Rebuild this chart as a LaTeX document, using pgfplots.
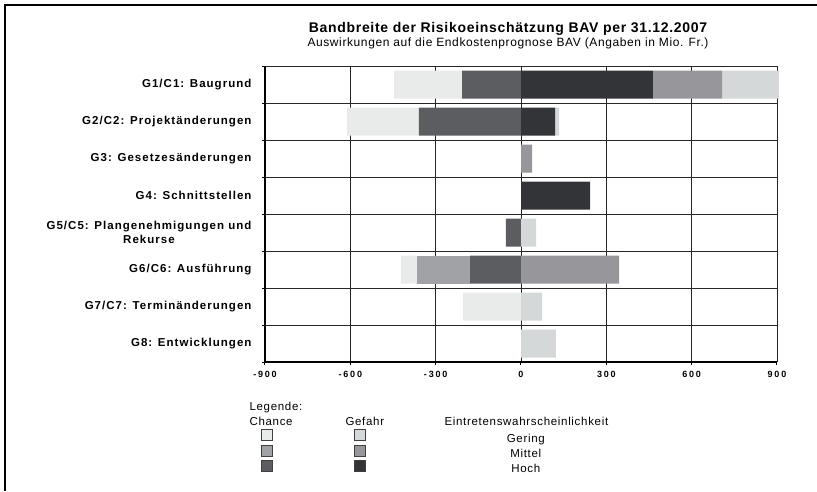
\documentclass[border=0pt]{standalone}
\usepackage{fontspec}
\setmainfont{Liberation Sans}
\newfontfamily\catfont[LetterSpace=9]{Liberation Sans}
\newfontfamily\tickfont[LetterSpace=20]{Liberation Sans}
\newfontfamily\titlefont[LetterSpace=5]{Liberation Sans}
\newfontfamily\legfont[LetterSpace=6]{Liberation Sans}
\usepackage{pgfplots}
\pgfplotsset{compat=1.18}

\definecolor{chG}{HTML}{E9EBEA}
\definecolor{chM}{HTML}{A0A2A5}
\definecolor{chH}{HTML}{5C5D61}
\definecolor{geG}{HTML}{D5D8D8}
\definecolor{geM}{HTML}{97979B}
\definecolor{geH}{HTML}{333438}

\pgfplotsset{
  base/.style={
    scale only axis, width=512pt, height=296pt,
    at={(265pt,129pt)}, anchor=south west,
    xmin=-900, xmax=900, ymin=0.5, ymax=8.5,
    xbar stacked, bar width=28pt,
  },
  sq/.style={legend image code/.code={\draw[##1,draw=black!75,line width=0.8pt] (0pt,-2pt) rectangle (11pt,9pt);}},
}
\newcommand{\gapA}{\hspace*{81pt}}
\newcommand{\gapB}{\hspace*{141pt}}

\begin{document}
\begin{tikzpicture}[x=1pt,y=1pt]
\useasboundingbox (0,0) rectangle (817,491);
\draw[line width=2.5pt] (5,0) -- (5,486) -- (817,486);

\node[anchor=base, font=\titlefont\fontsize{14}{16}\selectfont\bfseries] at (508,458) {Bandbreite der Risikoeinschätzung BAV per 31.12.2007};
\node[anchor=base, font=\titlefont\fontsize{12}{14}\selectfont] at (508,444) {Auswirkungen auf die Endkostenprognose BAV (Angaben in Mio. Fr.)};

% Chance (negative), with grid and axes
\begin{axis}[base,
  axis x line*=bottom, axis y line*=left,
  axis line style={-, line width=2.2pt, black},
  tick align=outside, major tick length=3pt,
  tick style={black, line width=1pt},
  xtick={-900,-600,-300,0,300,600,900},
  xticklabels={-900,-600,-300,0,300,600,900},
  xticklabel style={font=\tickfont\fontsize{9}{10}\selectfont\bfseries, yshift=-3pt},
  xmajorgrids,
  ytick={0.5,1.5,...,8.5},
  y tick label as interval,
  yticklabels={G8: Entwicklungen, G7/C7: Terminänderungen, G6/C6: Ausführung,
    {G5/C5: Plangenehmigungen und\\Rekurse}, G4: Schnittstellen,
    G3: Gesetzesänderungen, G2/C2: Projektänderungen, G1/C1: Baugrund},
  yticklabel style={font=\catfont\fontsize{11.5}{13.5}\selectfont\bfseries, align=center, xshift=-7pt},
  ymajorgrids,
  major grid style={black!85, line width=0.8pt},
  legend columns=3,
  legend style={draw=none, fill=none, at={(-0.0078,-0.2264)}, anchor=north west,
    inner sep=0pt, row sep=1pt, font=\legfont\fontsize{11.5}{13}\selectfont,
    nodes={inner sep=0pt}},
]
\addlegendimage{sq, fill=chG}
\addlegendimage{sq, fill=geG}
\addlegendimage{empty legend}
\addlegendimage{sq, fill=chM}
\addlegendimage{sq, fill=geM}
\addlegendimage{empty legend}
\addlegendimage{sq, fill=chH}
\addlegendimage{sq, fill=geH}
\addlegendimage{empty legend}
\legend{\gapA,\gapB,Gering,\gapA,\gapB,Mittel,\gapA,\gapB,Hoch}
\addplot[fill=chH, draw=none] coordinates {(-207,8) (-359,7) (0,6) (0,5) (-53,4) (-179,3) (0,2) (0,1)};
\addplot[fill=chM, draw=none] coordinates {(0,8) (0,7) (0,6) (0,5) (0,4) (-187,3) (0,2) (0,1)};
\addplot[fill=chG, draw=none] coordinates {(-239,8) (-253,7) (0,6) (0,5) (0,4) (-56,3) (-204,2) (0,1)};
\end{axis}

% Gefahr (positive)
\begin{axis}[base, hide axis, clip=false]
\addplot[fill=geH, draw=none] coordinates {(464,8) (120,7) (0,6) (243,5) (0,4) (0,3) (0,2) (0,1)};
\addplot[fill=geM, draw=none] coordinates {(243,8) (0,7) (39,6) (0,5) (0,4) (345,3) (0,2) (0,1)};
\addplot[fill=geG, draw=none] coordinates {(200,8) (14,7) (0,6) (0,5) (53,4) (0,3) (74,2) (123,1)};
\end{axis}

\node[anchor=base west, font=\legfont\fontsize{11.5}{13}\selectfont] at (246,81) {Legende:};
\node[anchor=base west, font=\legfont\fontsize{11.5}{13}\selectfont] at (246,66) {Chance};
\node[anchor=base west, font=\legfont\fontsize{11.5}{13}\selectfont] at (342,66) {Gefahr};
\node[anchor=base west, font=\legfont\fontsize{11.5}{13}\selectfont] at (441,66) {Eintretenswahrscheinlichkeit};
\end{tikzpicture}
\end{document}
